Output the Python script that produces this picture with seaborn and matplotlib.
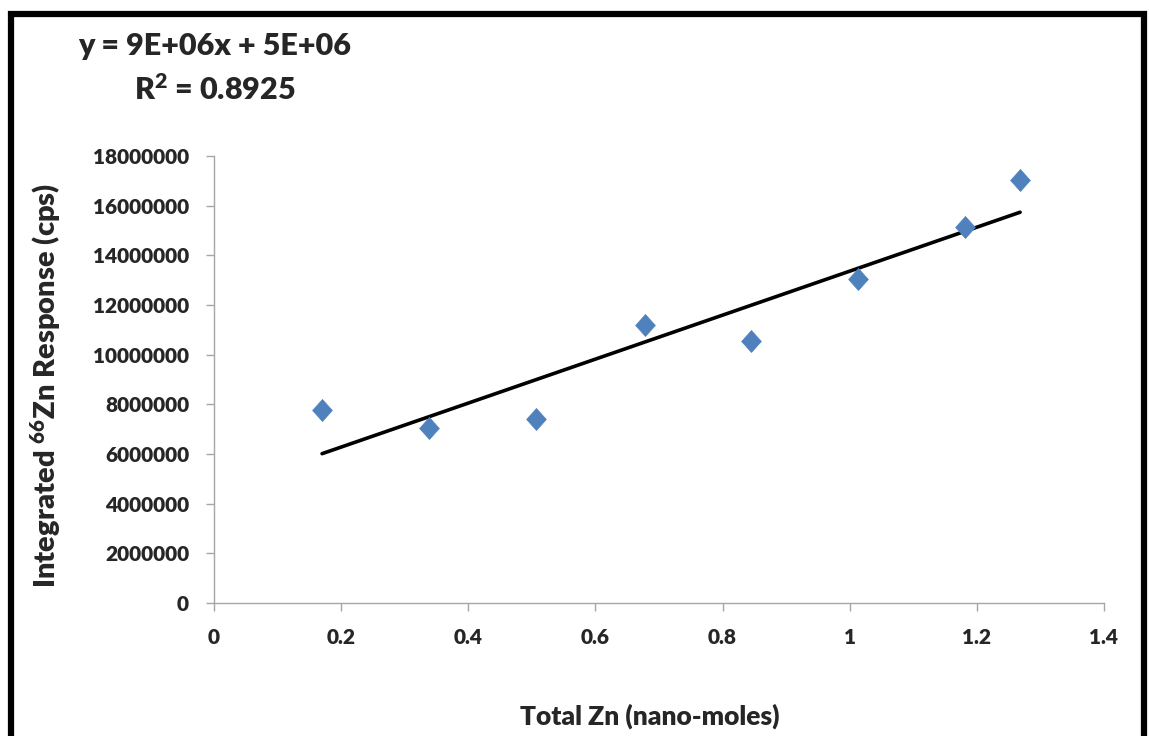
import numpy as np
import pandas as pd
import matplotlib
matplotlib.use("Agg")
import matplotlib.pyplot as plt
import seaborn as sns
from matplotlib.patches import Rectangle

# Data
total_zn = [0.170, 0.338, 0.507, 0.678, 0.845, 1.013, 1.181, 1.268]
response = [7.77e6, 7.05e6, 7.41e6, 11.19e6, 10.55e6, 13.05e6, 15.14e6, 17.03e6]
x_ticks = [0, 0.2, 0.4, 0.6, 0.8, 1, 1.2, 1.4]
x_tick_labels = ["0", "0.2", "0.4", "0.6", "0.8", "1", "1.2", "1.4"]
y_ticks = [0, 2000000, 4000000, 6000000, 8000000, 10000000, 12000000, 14000000, 16000000, 18000000]
y_tick_labels = [str(v) for v in y_ticks]
equation_text = "y = 9E+06x + 5E+06"
r2_text = r"R$^{\mathregular{2}}$ = 0.8925"

df = pd.DataFrame({"x": total_zn, "y": response})

sns.set_theme(style="white")
plt.rcParams['font.family'] = ['Lato', 'DejaVu Sans']
plt.rcParams['mathtext.fontset'] = 'custom'
plt.rcParams['mathtext.rm'] = 'Lato:heavy'
plt.rcParams['mathtext.bf'] = 'Lato:heavy'
plt.rcParams['mathtext.it'] = 'Lato:heavy'

W = "heavy"

fig = plt.figure(figsize=(11.49, 7.36), dpi=100)
ax = fig.add_axes([214/1149, 1-603/736, (1104-214)/1149, (603-156)/736])

# Trendline (least squares)
coef = np.polyfit(df["x"], df["y"], 1)
xs = np.array([df["x"].min(), df["x"].max()])
ax.plot(xs, np.polyval(coef, xs), color="black", lw=2.6, zorder=2)

diamond = [(0, 1), (0.9, 0), (0, -1), (-0.9, 0), (0, 1)]
sns.scatterplot(data=df, x="x", y="y", ax=ax, marker=diamond, s=250,
                color="#4F81BD", edgecolor="#4F81BD", linewidth=0.5, zorder=3)

ax.set_xlim(0, 1.4)
ax.set_ylim(0, 18000000)
ax.set_xticks(x_ticks)
ax.set_xticklabels(x_tick_labels, fontsize=15, fontweight=W)
ax.set_yticks(y_ticks)
ax.set_yticklabels(y_tick_labels, fontsize=15, fontweight=W)
for s in ["top", "right"]:
    ax.spines[s].set_visible(False)
for s in ["left", "bottom"]:
    ax.spines[s].set_color("#a6a6a6")
    ax.spines[s].set_linewidth(1.0)
ax.tick_params(axis="both", which="major", direction="out", length=6, width=1,
               color="#a6a6a6", bottom=True, left=True)
ax.tick_params(axis="y", pad=12)
ax.tick_params(axis="x", pad=12)
ax.set_xlabel("")
ax.set_ylabel("")

fig.text(46/1149, 1-385/736, r"Integrated $^{\mathregular{66}}$Zn Response (cps)", rotation=90,
         ha="center", va="center", fontsize=21, fontweight=W)
fig.text(650/1149, 1-716/736, "Total Zn (nano-moles)", ha="center", va="center",
         fontsize=19, fontweight=W)
fig.text(215/1149, 1-46/736, equation_text, ha="center", va="center",
         fontsize=22, fontweight=W)
fig.text(215/1149, 1-90/736, r2_text, ha="center", va="center",
         fontsize=22, fontweight=W)

# Outer black frame
fig.patches.append(Rectangle((11/1149, -0.05), (1144-11)/1149, 1-14/736 + 0.05,
                             transform=fig.transFigure, fill=False,
                             edgecolor="black", linewidth=4.5))

fig.savefig("out.png", dpi=100)
